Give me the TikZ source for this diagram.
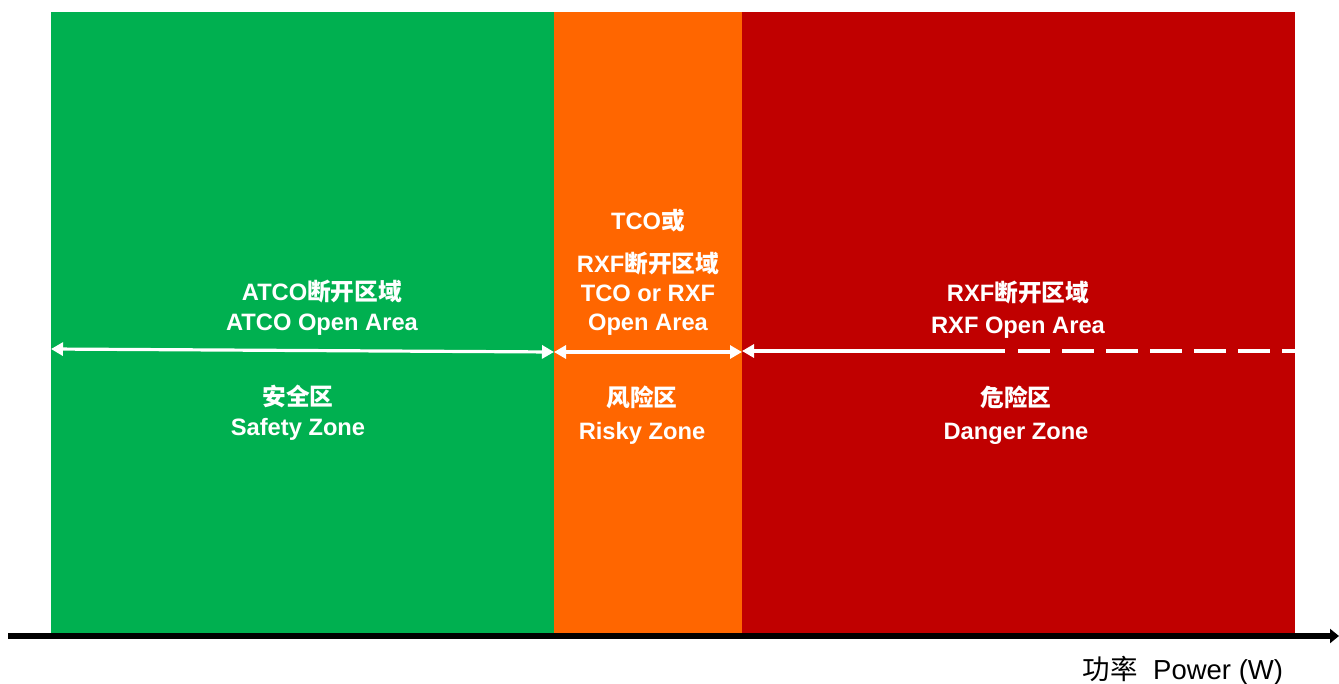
\documentclass[tikz,border=0pt]{standalone}
\usepackage{fontspec}
\setmainfont{Liberation Sans}
\newfontfamily\cjk{Noto Sans CJK SC}
\usetikzlibrary{arrows.meta}
\definecolor{safegreen}{HTML}{00B050}
\definecolor{riskorange}{HTML}{FF6600}
\definecolor{dangerred}{HTML}{C00000}

\begin{document}
\begin{tikzpicture}[x=1pt, y=-1pt,
  zonetext/.style={text=white, font=\bfseries\fontsize{23.7}{30}\selectfont, align=center, inner sep=0pt},
  openarrow/.style={white, line width=3.2pt, >={Triangle[length=12pt, width=13pt]}}]
\useasboundingbox (0,0) rectangle (1339,683);
%%%%% Zones %%%%%
\fill[safegreen]  (51,12)  rectangle (554,633);
\fill[riskorange] (554,12) rectangle (742,633);
\fill[dangerred]  (742,12) rectangle (1295,633);
%%%%% Axis %%%%%
\coordinate (axisstart) at (8,636);
\coordinate (axisend) at (1339,636);
\draw[-{Triangle[length=9pt, width=14pt]}, line width=5.5pt] (axisstart)--(axisend);
\node[font=\fontsize{27.5}{30}\selectfont, anchor=center] (axislabel) at (1183,671) {{\cjk 功率}\ \ Power (W)};
%%%%% Boundaries %%%%%
\coordinate (atcoleft) at (51,349);
\coordinate (atcoright) at (554,352);
\coordinate (tcoleft) at (554,352);
\coordinate (tcoright) at (742,352);
\coordinate (rxfleft) at (742,351);
\coordinate (rxfsolid) at (1005,351);
\coordinate (rxfdash) at (1018,351);
\coordinate (rxfright) at (1295,351);
\draw[openarrow, <->] (atcoleft)--(atcoright);
\draw[openarrow, <->] (tcoleft)--(tcoright);
\draw[openarrow, <-] (rxfleft)--(rxfsolid);
\draw[openarrow, dash pattern=on 32pt off 12pt] (rxfdash)--(rxfright);
%%%%% Labels %%%%%
\node[zonetext] (atcoopen) at (322,308) {ATCO{\cjk 断开区域}\\ATCO Open Area};
\node[zonetext] (safezone) at (298,413) {{\cjk 安全区}\\Safety Zone};
\node[zonetext] (tcoor) at (648,221) {TCO{\cjk 或}};
\node[zonetext, font=\bfseries\fontsize{23.7}{29}\selectfont] (tcoopen) at (648,294) {RXF{\cjk 断开区域}\\TCO or RXF\\Open Area};
\node[zonetext, font=\bfseries\fontsize{23.7}{33}\selectfont] (riskzone) at (642,415) {{\cjk 风险区}\\Risky Zone};
\node[zonetext, font=\bfseries\fontsize{23.7}{32}\selectfont] (rxfopen) at (1018,310) {RXF{\cjk 断开区域}\\RXF Open Area};
\node[zonetext, font=\bfseries\fontsize{23.7}{33}\selectfont] (dangerzone) at (1016,415) {{\cjk 危险区}\\Danger Zone};
\end{tikzpicture}
\end{document}
